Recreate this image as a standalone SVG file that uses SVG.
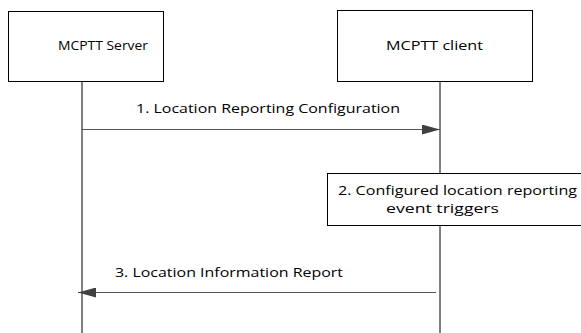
<svg xmlns="http://www.w3.org/2000/svg" width="581" height="333" viewBox="0 0 581 333">
<style>
text{font-family:"Open Sans","Liberation Sans",sans-serif;font-size:13px;fill:#000}
.box{fill:#fff;stroke:#000;stroke-width:1}
.life{stroke:#000;stroke-width:1}
.msg{stroke:#555;stroke-width:1;fill:none}
</style>
<defs>
<marker id="ah" markerWidth="18" markerHeight="10" refX="18" refY="5" orient="auto" markerUnits="userSpaceOnUse">
<path d="M0,0 L18,5 L0,10 Z" fill="#404040"/>
</marker>
</defs>
<g id="lifelines">
<line class="life" x1="82" y1="81" x2="82" y2="333"/>
<line class="life" x1="440" y1="81" x2="440" y2="333"/>
</g>
<g id="server">
<rect class="box" x="8.5" y="11.5" width="155" height="70"/>
<text x="58" y="50" textLength="90" lengthAdjust="spacingAndGlyphs">MCPTT Server</text>
</g>
<g id="client">
<rect class="box" x="337.5" y="10.5" width="195" height="71"/>
<text x="386" y="50" textLength="97" lengthAdjust="spacingAndGlyphs">MCPTT client</text>
</g>
<g id="step2">
<rect class="box" x="327.5" y="173.5" width="260" height="52"/>
<text x="338" y="195" textLength="239" lengthAdjust="spacingAndGlyphs">2. Configured location reporting</text>
<text x="386" y="213" textLength="113" lengthAdjust="spacingAndGlyphs">event triggers</text>
</g>
<g id="connectors">
<line class="msg" x1="82" y1="129.5" x2="440" y2="129.5" marker-end="url(#ah)"/>
<text x="136" y="113" textLength="264" lengthAdjust="spacingAndGlyphs">1. Location Reporting Configuration</text>
<line class="msg" x1="436" y1="292.5" x2="78" y2="292.5" marker-end="url(#ah)"/>
<text x="115" y="277" textLength="228" lengthAdjust="spacingAndGlyphs">3. Location Information Report</text>
</g>
</svg>
